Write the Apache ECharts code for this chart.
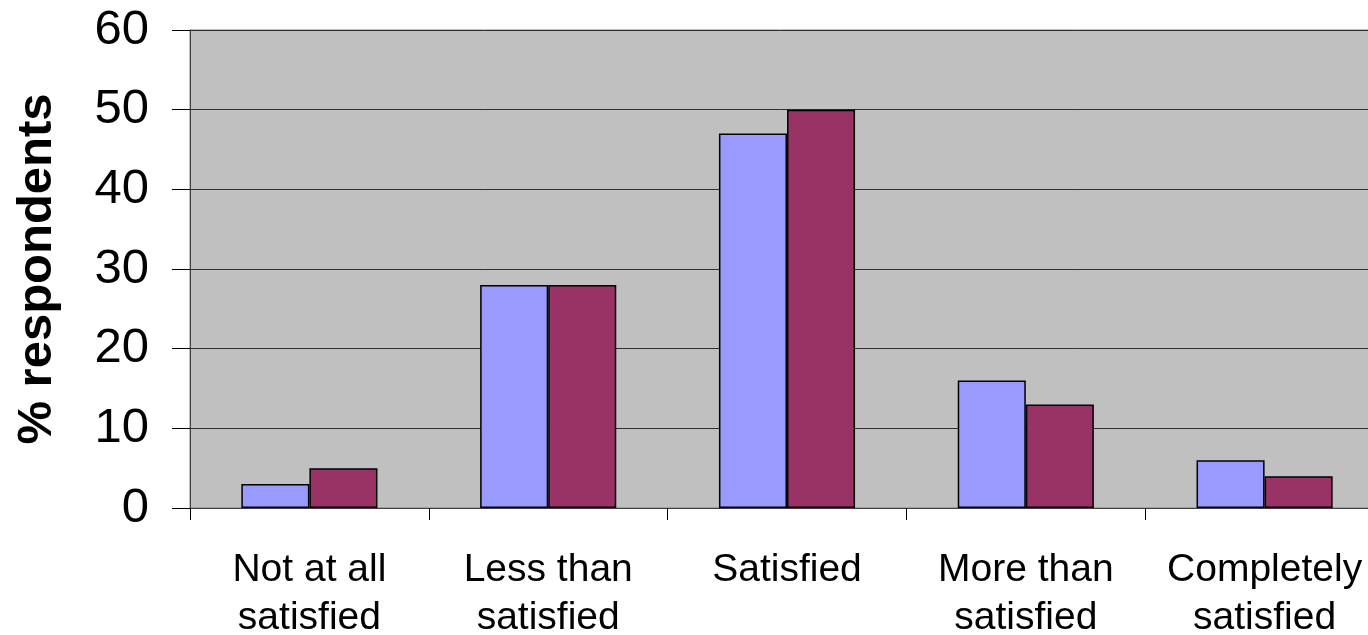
<!DOCTYPE html>
<html><head><meta charset="utf-8">
<script src="https://cdn.jsdelivr.net/npm/echarts@6/dist/echarts.min.js"></script>
<style>html,body{margin:0;padding:0;background:#fff}#c{width:1368px;height:635px}</style>
</head><body><div id="c"></div>
<script>
var categories = ['Not at all\nsatisfied', 'Less than\nsatisfied', 'Satisfied', 'More than\nsatisfied', 'Completely\nsatisfied'];
var seriesA = [3, 28, 47, 16, 6];
var seriesB = [5, 28, 50, 13, 4];
var yTicks = [0, 10, 20, 30, 40, 50, 60];
var FONT = '"Liberation Sans", Arial, sans-serif';
var chart = echarts.init(document.getElementById('c'), null, {renderer: 'canvas'});
chart.setOption({
  animation: false,
  backgroundColor: '#ffffff',
  grid: {left: 190, top: 30, right: -16, bottom: 127, containLabel: false, outerBoundsMode: 'none',
         show: true, backgroundColor: '#c0c0c0', borderColor: '#808080', borderWidth: 1},
  xAxis: {
    type: 'category', data: categories,
    axisLine: {show: true, lineStyle: {color: '#404040', width: 1}},
    axisTick: {show: true, alignWithLabel: false, length: 12, lineStyle: {color: '#000'}},
    axisLabel: {fontFamily: FONT, fontSize: 39, color: '#000', lineHeight: 48, margin: 38, interval: 0}
  },
  yAxis: {
    type: 'value', min: yTicks[0], max: yTicks[yTicks.length - 1], interval: 10,
    name: '% respondents', nameLocation: 'middle', nameGap: 128, nameRotate: 90,
    nameTextStyle: {fontFamily: FONT, fontSize: 49, fontWeight: 'bold', color: '#000'},
    axisLine: {show: true, lineStyle: {color: '#404040', width: 1}},
    axisTick: {show: true, length: 18, lineStyle: {color: '#000'}},
    axisLabel: {fontFamily: FONT, fontSize: 49, color: '#000', margin: 41},
    splitLine: {show: true, lineStyle: {color: '#303030', width: 1}}
  },
  series: [
    {type: 'bar', data: seriesA, barGap: '0%', barCategoryGap: '43%',
     itemStyle: {color: '#9999ff', borderColor: '#000', borderWidth: 1.5}},
    {type: 'bar', data: seriesB, barGap: '0%', barCategoryGap: '43%',
     itemStyle: {color: '#993366', borderColor: '#000', borderWidth: 1.5}}
  ]
});
</script></body></html>
